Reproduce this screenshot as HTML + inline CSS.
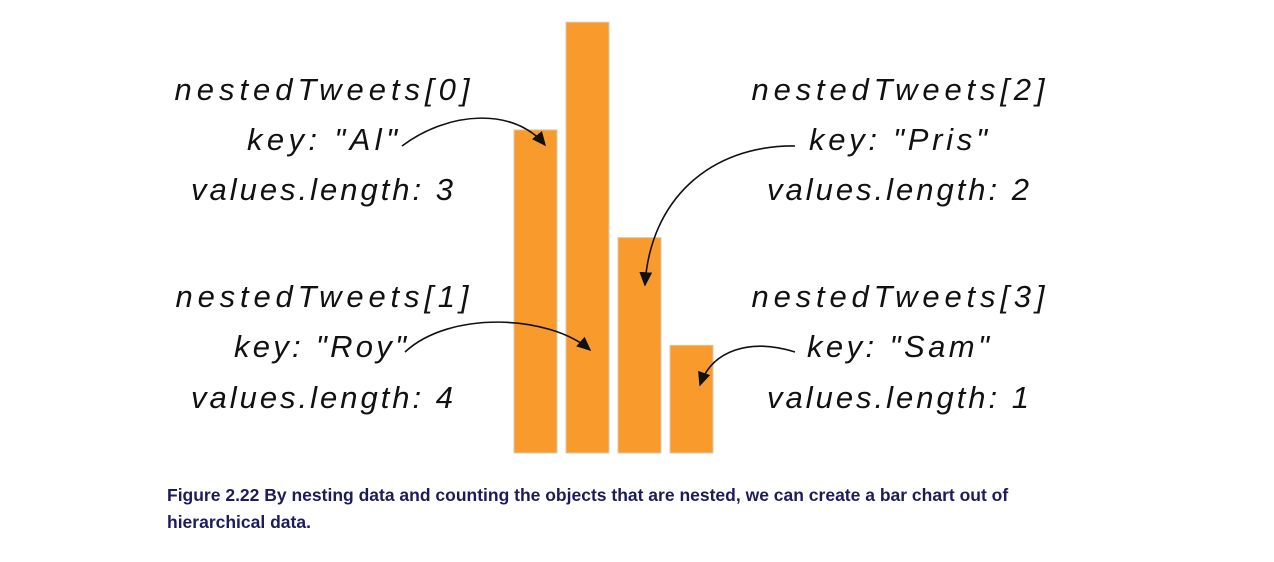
<!DOCTYPE html>
<html><head><meta charset="utf-8"><style>
body{margin:0;background:#fff;width:1274px;height:562px;overflow:hidden}
.t{font-family:"Liberation Sans","DejaVu Sans",sans-serif;font-style:italic;font-size:31px;fill:#111}
.cap{position:absolute;left:167px;top:482px;width:870px;font-family:"Liberation Sans",sans-serif;font-weight:bold;font-size:17.5px;line-height:27px;color:#1c1c5c}
</style></head><body>
<svg id="chart" width="1274" height="562" style="position:absolute;left:0;top:0">
<defs><marker id="ah" markerWidth="10" markerHeight="10" refX="8" refY="5" orient="auto"><path d="M0,1 L9,5 L0,9 Z" fill="#111"/></marker></defs>
<g id="bars"></g>
<g>
<text class="t" x="322" y="100" text-anchor="middle" textLength="295">nestedTweets[0]</text>
<text class="t" x="322" y="150" text-anchor="middle" textLength="150">key: "Al"</text>
<text class="t" x="322" y="200" text-anchor="middle" textLength="262">values.length: 3</text></g>
<g>
<text class="t" x="898" y="100" text-anchor="middle" textLength="293">nestedTweets[2]</text>
<text class="t" x="898" y="150" text-anchor="middle" textLength="178">key: "Pris"</text>
<text class="t" x="898" y="200" text-anchor="middle" textLength="262">values.length: 2</text></g>
<g>
<text class="t" x="322" y="307" text-anchor="middle" textLength="293">nestedTweets[1]</text>
<text class="t" x="320" y="357" text-anchor="middle" textLength="172">key: "Roy"</text>
<text class="t" x="322" y="408" text-anchor="middle" textLength="262">values.length: 4</text></g>
<g>
<text class="t" x="898" y="307" text-anchor="middle" textLength="293">nestedTweets[3]</text>
<text class="t" x="898" y="357" text-anchor="middle" textLength="182">key: "Sam"</text>
<text class="t" x="898" y="408" text-anchor="middle" textLength="262">values.length: 1</text></g>
<g fill="none" stroke="#111" stroke-width="1.6">
<path d="M402,146 C450,110 515,108 545,145" marker-end="url(#ah)"/>
<path d="M795,146 C710,145 650,200 645,285" marker-end="url(#ah)"/>
<path d="M405,352 C450,310 550,315 590,350" marker-end="url(#ah)"/>
<path d="M795,352 C750,338 712,350 700,385" marker-end="url(#ah)"/>
</g>
</svg>
<div class="cap">Figure 2.22 By nesting data and counting the objects that are nested, we can create a bar chart out of hierarchical data.</div>
<script>
const categories = ["Al","Roy","Pris","Sam"];
const values = [3,4,2,1];
const x0 = 514, step = 52, bw = 43, base = 453, unit = 107.7;
const xs = i => x0 + i*step;
const ys = v => base - v*unit;
const g = document.getElementById('bars');
values.forEach((v,i)=>{
  const r = document.createElementNS('http://www.w3.org/2000/svg','rect');
  r.setAttribute('x', xs(i)); r.setAttribute('y', ys(v));
  r.setAttribute('width', bw); r.setAttribute('height', base - ys(v));
  r.setAttribute('fill', '#F99B2C'); r.setAttribute('stroke', '#d8c8b0'); r.setAttribute('stroke-width', '1');
  
  
  g.appendChild(r);
});
</script>
</body></html>
